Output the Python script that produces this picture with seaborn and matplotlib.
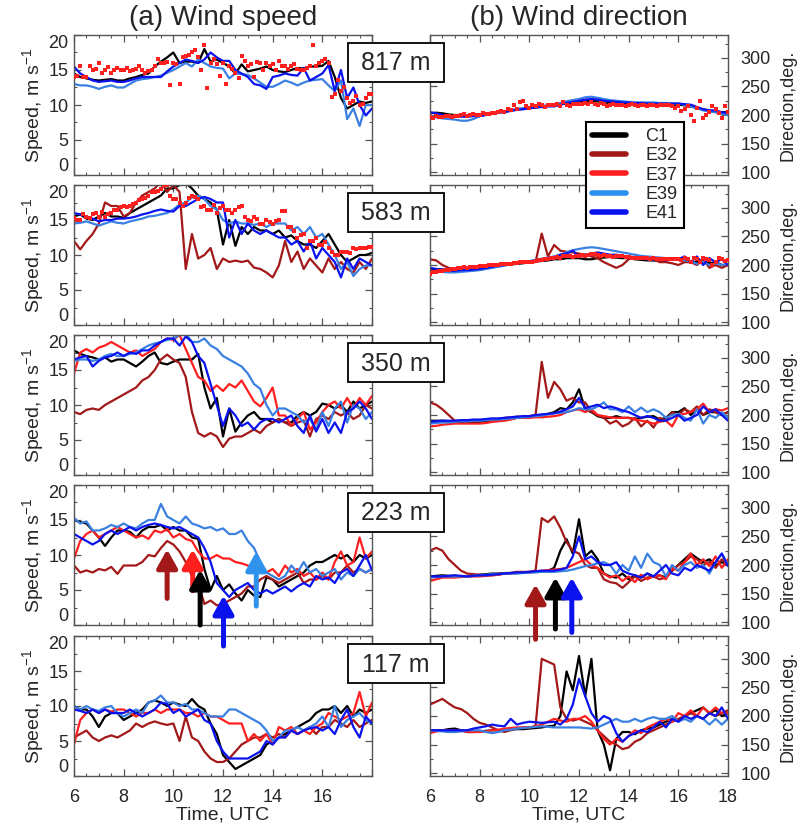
import numpy as np
import pandas as pd
import matplotlib
matplotlib.use('Agg')
import matplotlib.pyplot as plt
import matplotlib.patches as mpatches
from matplotlib.lines import Line2D
from matplotlib.ticker import MultipleLocator, FixedLocator
import seaborn as sns

sns.set_theme(style='white')
plt.rcParams['font.family'] = ['Liberation Sans', 'DejaVu Sans']
plt.rcParams['mathtext.default'] = 'regular'

# ---------------- data (UTC hours 6..18, 15-min steps) ----------------
times = np.round(np.arange(6, 18.001, 0.25), 3)
times_b = times[:-1] + 0.125
stations = ['C1', 'E32', 'E37', 'E39', 'E41']
heights = ['817 m', '583 m', '350 m', '223 m', '117 m']

# 817 m
spd817_C1 = [14.5, 14.0, 13.8, 13.6, 13.5, 13.6, 13.7, 13.5,
             13.5, 13.8, 14.0, 14.3, 14.5, 15.5, 16.2, 16.8,
             17.5, 16.0, 16.2, 16.2, 16.0, 18.0, 16.2, 16.5,
             16.0, 15.5, 14.5, 15.8, 14.8, 15.0, 15.2, 15.5,
             15.0, 14.8, 14.7, 15.0, 15.3, 15.2, 15.5, 15.5,
             15.6, 16.3, 14.0, 11.0, 9.5, 10.0, 10.5, 10.3, 10.5]
spd817_E39 = [13.0, 12.8, 12.8, 12.6, 12.3, 12.6, 12.8, 12.5,
              12.5, 13.0, 13.5, 13.7, 13.8, 14.0, 14.2, 14.6,
              15.0, 15.5, 16.0, 15.5, 16.5, 16.0, 15.5, 15.3,
              15.2, 13.8, 14.5, 14.4, 14.3, 13.8, 13.2, 12.6,
              12.6, 13.0, 13.5, 13.2, 12.8, 13.2, 13.5, 13.6,
              13.7, 12.8, 12.0, 13.5, 8.0, 9.5, 7.0, 10.0, 10.0]
spd817_E41 = [15.5, 14.5, 14.0, 13.5, 13.3, 13.4, 13.5, 13.3,
              13.3, 13.5, 13.8, 14.0, 14.0, 14.0, 14.0, 14.8,
              15.5, 16.0, 16.5, 16.3, 16.0, 16.5, 17.5, 16.8,
              16.3, 16.3, 15.0, 14.5, 14.0, 13.0, 12.8, 12.3,
              14.0, 14.2, 14.5, 14.3, 14.2, 15.3, 13.5, 14.0,
              14.5, 15.7, 12.0, 15.0, 11.0, 12.5, 10.0, 8.5, 9.5]
spd817_E37a = [14.0, 15.5, 14.0, 15.0, 16.0, 15.0, 14.5, 15.3,
               15.0, 14.8, 15.2, 15.0, 14.8, 15.5, 16.0, 16.2,
               16.0, 13.0, 17.0, 17.5, 16.8, 18.5, 16.0, 15.8,
               16.0, 15.5, 14.5, 17.0, 15.5, 14.0, 16.0, 16.0,
               15.8, 16.3, 15.5, 15.5, 15.2, 15.0, 15.5, 15.5,
               16.3, 16.0, 11.5, 12.0, 11.0, 10.5, 10.0, 11.0, 11.5]
spd817_E37b = [14.2, 14.0, 15.5, 15.2, 14.6, 15.4, 15.0, 15.0,
               15.3, 15.0, 15.5, 14.6, 15.0, 16.5, 16.0, 12.9,
               15.8, 16.8, 17.2, 17.8, 15.0, 12.4, 16.5, 14.2,
               13.0, 15.2, 13.8, 16.3, 15.8, 16.2, 15.0, 15.5,
               15.0, 15.5, 15.2, 15.8, 15.0, 15.3, 18.5, 16.0,
               16.5, 11.2, 13.5, 12.5, 10.3, 11.3, 10.2, 11.5]
dir817_C1 = [203, 204, 203, 201, 200, 200, 199, 199,
             200, 201, 203, 205, 206, 208, 210, 211,
             212, 213, 215, 216, 218, 219, 220, 221,
             222, 224, 225, 224, 222, 221, 221, 220,
             220, 219, 219, 218, 218, 218, 218, 218,
             218, 217, 215, 212, 210, 208, 205, 205, 205]
dir817_E39 = [198, 196, 194, 193, 192, 190, 190, 193,
              198, 200, 203, 205, 206, 208, 210, 212,
              213, 215, 216, 217, 218, 221, 224, 226,
              228, 231, 232, 230, 228, 226, 225, 224,
              223, 222, 222, 222, 222, 221, 221, 220,
              220, 218, 215, 212, 208, 206, 205, 202, 200]
dir817_E41 = [205, 203, 200, 198, 198, 197, 197, 198,
              198, 200, 202, 204, 205, 207, 209, 210,
              212, 213, 214, 215, 215, 218, 221, 223,
              225, 227, 228, 227, 225, 224, 223, 222,
              222, 221, 221, 220, 220, 220, 220, 220,
              220, 219, 218, 214, 210, 208, 208, 205, 203]
dir817_E37a = [197, 198, 196, 198, 199, 200, 199, 201,
               200, 202, 203, 205, 205, 208, 210, 225,
               212, 216, 217, 218, 217, 216, 218, 219,
               220, 221, 222, 218, 220, 218, 218, 217,
               217, 218, 217, 216, 217, 218, 217, 216,
               215, 210, 200, 212, 195, 205, 210, 195, 205]
dir817_E37b = [195, 197, 199, 197, 198, 201, 200, 200,
               203, 201, 204, 207, 210, 218, 222, 215,
               217, 219, 214, 218, 220, 222, 216, 220,
               219, 220, 219, 221, 216, 219, 218, 216,
               219, 216, 218, 217, 216, 218, 217, 212,
               207, 215, 190, 225, 200, 215, 203, 215]

# 583 m
spd583_C1 = [15.5, 15.8, 15.2, 15.0, 15.5, 16.0, 15.5, 15.5,
             15.3, 16.0, 16.5, 17.0, 17.5, 18.0, 18.5, 19.5,
             19.5, 20.0, 20.3, 19.5, 18.5, 18.0, 17.5, 16.5,
             11.5, 15.0, 11.3, 14.0, 13.0, 14.0, 13.5, 13.5,
             13.0, 13.5, 12.5, 12.8, 12.0, 11.5, 11.5, 11.0,
             12.0, 13.0, 11.5, 10.0, 9.0, 9.5, 10.0, 10.0, 10.3]
spd583_E32 = [12.0, 10.8, 12.0, 13.0, 14.5, 17.5, 17.0, 17.0,
              15.5, 16.0, 17.5, 18.5, 19.0, 19.5, 20.5, 19.0,
              20.0, 19.0, 8.0, 13.0, 9.5, 10.0, 11.0, 8.0,
              9.5, 9.0, 9.2, 9.0, 9.2, 8.2, 8.0, 7.5,
              6.8, 8.5, 12.0, 9.0, 10.5, 8.0, 9.5, 8.5,
              7.5, 9.5, 8.0, 9.0, 8.0, 7.5, 9.0, 8.0, 9.5]
spd583_E39 = [14.5, 14.6, 14.8, 14.5, 14.2, 14.5, 14.8, 14.6,
              14.5, 14.8, 15.0, 15.2, 15.5, 15.6, 15.8, 16.0,
              16.5, 17.2, 17.5, 18.2, 18.5, 18.0, 17.0, 16.5,
              15.0, 14.5, 14.8, 14.5, 14.5, 14.3, 14.5, 14.0,
              14.5, 14.5, 14.5, 13.5, 14.0, 13.0, 14.0, 12.5,
              13.0, 11.5, 10.0, 8.0, 9.0, 7.0, 8.0, 8.5, 8.5]
spd583_E41 = [16.0, 15.8, 15.5, 15.2, 14.8, 15.0, 15.0, 15.2,
              15.2, 15.3, 15.5, 15.8, 16.0, 16.3, 16.5, 16.3,
              16.2, 17.0, 17.0, 17.5, 18.0, 18.3, 18.0, 17.5,
              17.5, 12.5, 15.0, 13.0, 14.5, 13.5, 13.0, 13.5,
              13.0, 12.5, 12.5, 11.5, 12.0, 10.5, 12.0, 9.5,
              11.0, 10.0, 9.0, 6.8, 9.5, 8.0, 9.5, 9.0, 8.5]
spd583_E37a = [15.3, 15.0, 15.5, 15.8, 15.5, 15.5, 16.0, 16.5,
               17.0, 17.0, 17.5, 18.0, 18.5, 19.0, 19.5, 20.0,
               18.0, 17.5, 17.5, 18.5, 18.0, 17.0, 16.5, 16.0,
               17.0, 16.5, 16.5, 17.0, 15.0, 15.5, 14.5, 15.0,
               14.5, 15.0, 16.3, 14.0, 12.5, 13.0, 12.0, 12.5,
               11.5, 11.0, 10.0, 10.5, 10.5, 11.0, 11.0, 11.0, 11.2]
spd583_E37b = [15.0, 15.8, 15.3, 16.0, 16.2, 15.8, 16.5, 16.8,
               16.8, 17.3, 17.8, 18.2, 19.0, 19.2, 20.0, 18.5,
               18.0, 17.0, 18.2, 18.3, 16.8, 16.5, 17.2, 16.7,
               16.5, 16.0, 16.8, 15.5, 14.8, 15.2, 14.5, 14.7,
               14.8, 16.3, 14.0, 13.5, 12.8, 11.0, 12.0, 11.5,
               11.8, 10.5, 10.0, 10.5, 10.3, 10.8, 11.0, 11.1]
dir583_C1 = [193, 193, 192, 190, 190, 190, 190, 191,
             192, 194, 196, 198, 200, 201, 202, 203,
             205, 206, 207, 208, 210, 210, 212, 212,
             212, 210, 210, 212, 213, 214, 213, 212,
             212, 210, 209, 208, 208, 207, 208, 210,
             210, 208, 205, 205, 210, 203, 205, 200, 200]
dir583_E32 = [210, 208, 200, 195, 190, 190, 190, 192,
              195, 196, 198, 199, 200, 202, 203, 204,
              205, 205, 255, 215, 235, 225, 223, 222,
              220, 218, 215, 212, 205, 200, 195, 200,
              210, 215, 212, 210, 210, 205, 205, 203,
              200, 205, 205, 200, 210, 195, 200, 195, 200]
dir583_E39 = [190, 189, 188, 187, 187, 188, 189, 190,
              191, 193, 195, 197, 199, 201, 203, 205,
              207, 209, 211, 213, 215, 218, 222, 226,
              228, 230, 231, 230, 228, 226, 224, 222,
              220, 218, 216, 215, 214, 213, 212, 211,
              210, 208, 207, 202, 205, 200, 203, 200, 202]
dir583_E41 = [195, 193, 192, 190, 190, 191, 191, 192,
              193, 195, 197, 199, 200, 202, 203, 205,
              206, 208, 210, 212, 214, 218, 220, 225,
              215, 218, 220, 222, 220, 218, 218, 216,
              215, 213, 212, 210, 210, 212, 208, 212,
              210, 215, 205, 215, 200, 212, 205, 210, 200]
dir583_E37a = [185, 188, 190, 192, 193, 195, 195, 196,
               198, 199, 200, 200, 201, 202, 203, 205,
               205, 207, 208, 210, 212, 213, 215, 214,
               215, 216, 220, 218, 217, 215, 215, 215,
               214, 213, 212, 212, 212, 211, 210, 210,
               210, 212, 205, 210, 212, 208, 205, 210, 208]
dir583_E37b = [187, 189, 191, 193, 194, 196, 196, 197,
               199, 200, 200, 201, 202, 204, 205, 206,
               206, 208, 211, 213, 214, 216, 215, 216,
               218, 218, 219, 216, 216, 214, 215, 214,
               213, 212, 212, 211, 211, 210, 210, 211,
               208, 210, 212, 205, 210, 200, 212, 207]

# 350 m
spd350_C1 = [17.8, 17.3, 17.0, 16.8, 16.5, 16.8, 16.2, 16.5,
             16.5, 16.0, 15.5, 16.2, 17.0, 17.5, 16.0, 15.8,
             16.2, 16.5, 16.5, 16.5, 17.3, 12.5, 9.5, 11.0,
             5.5, 9.5, 6.2, 7.5, 8.5, 9.0, 8.0, 8.0,
             7.5, 8.0, 7.5, 7.5, 8.5, 9.0, 8.5, 9.0,
             10.2, 10.0, 9.5, 10.0, 9.0, 10.5, 9.5, 10.0, 10.5]
spd350_E32 = [9.0, 8.7, 9.3, 9.5, 9.3, 10.0, 10.5, 11.0,
              11.5, 12.0, 12.5, 13.5, 14.0, 15.0, 16.5, 17.2,
              16.5, 16.0, 14.0, 9.0, 6.0, 5.5, 6.0, 5.5,
              4.0, 5.2, 5.5, 5.5, 6.0, 6.5, 6.0, 7.0,
              7.5, 8.0, 7.5, 7.0, 7.5, 7.8, 5.5, 8.0,
              8.5, 8.0, 9.0, 8.5, 9.0, 8.0, 8.5, 10.0, 9.5]
spd350_E37 = [14.5, 17.5, 18.0, 17.5, 18.2, 18.5, 19.0, 18.5,
              18.0, 17.5, 17.8, 17.0, 17.5, 18.0, 19.0, 19.5,
              19.3, 20.0, 18.0, 16.0, 14.0, 13.5, 12.0, 12.8,
              12.0, 13.0, 12.5, 13.5, 12.0, 10.5, 9.8, 11.0,
              12.5, 8.5, 8.5, 7.0, 8.0, 9.0, 6.5, 7.5,
              9.0, 10.0, 10.5, 9.5, 11.0, 9.5, 11.0, 10.0, 11.3]
spd350_E39 = [16.3, 16.5, 16.5, 16.3, 16.5, 17.0, 17.3, 17.0,
              17.0, 17.3, 17.5, 18.0, 18.5, 18.8, 19.0, 19.3,
              19.5, 20.0, 20.2, 19.0, 19.0, 19.5, 18.5, 18.0,
              17.0, 16.5, 16.0, 15.5, 14.5, 13.0, 12.3, 10.0,
              8.5, 9.5, 9.5, 9.0, 8.5, 7.5, 8.0, 6.5,
              9.0, 7.0, 9.5, 10.5, 7.5, 10.0, 9.5, 8.0, 9.0]
spd350_E41 = [16.5, 16.8, 17.0, 15.5, 16.3, 16.8, 17.0, 17.5,
              17.0, 17.5, 17.3, 17.8, 17.8, 18.5, 19.0, 19.5,
              19.5, 18.5, 19.8, 19.0, 17.0, 16.0, 13.0, 10.0,
              7.0, 9.5, 8.5, 7.0, 7.5, 6.5, 7.5, 8.0,
              8.0, 7.5, 8.0, 8.5, 7.0, 6.0, 8.5, 6.2,
              8.0, 6.0, 7.5, 6.0, 9.0, 9.5, 10.5, 9.5, 8.0]
dir350_C1 = [190, 190, 190, 189, 188, 188, 188, 188,
             188, 189, 190, 191, 192, 193, 195, 196,
             197, 198, 200, 202, 205, 212, 210, 222,
             245, 210, 205, 198, 195, 195, 198, 195,
             195, 193, 195, 197, 198, 192, 195, 205,
             205, 212, 200, 210, 200, 205, 205, 200, 205]
dir350_E32 = [222, 218, 210, 200, 190, 190, 190, 190,
              190, 191, 192, 193, 195, 196, 197, 197,
              198, 200, 293, 230, 258, 245, 225, 230,
              222, 222, 205, 200, 195, 185, 190, 180,
              185, 195, 180, 190, 178, 195, 190, 205,
              200, 210, 205, 215, 200, 210, 205, 200, 205]
dir350_E37 = [180, 181, 183, 184, 185, 185, 185, 185,
              185, 186, 188, 189, 190, 192, 195, 195,
              195, 196, 196, 197, 198, 200, 205, 208,
              210, 205, 210, 200, 198, 196, 195, 195,
              195, 192, 190, 188, 185, 188, 190, 180,
              200, 202, 205, 210, 220, 205, 210, 208, 212]
dir350_E39 = [185, 186, 187, 187, 188, 189, 189, 190,
              190, 191, 192, 192, 193, 194, 195, 196,
              197, 198, 199, 201, 203, 204, 205, 208,
              212, 210, 210, 215, 222, 210, 210, 205,
              215, 205, 213, 205, 210, 205, 195, 200,
              202, 195, 190, 210, 185, 200, 195, 205, 195]
dir350_E41 = [188, 189, 190, 190, 190, 191, 191, 192,
              192, 193, 194, 194, 195, 196, 197, 198,
              198, 200, 201, 202, 203, 206, 210, 215,
              230, 212, 215, 218, 212, 215, 212, 208,
              205, 200, 195, 198, 195, 190, 190, 195,
              200, 190, 195, 200, 215, 205, 210, 200, 190]

# 223 m
spd223_C1 = [15.0, 14.7, 14.5, 13.5, 12.5, 11.3, 12.5, 13.5,
             13.5, 13.3, 12.5, 13.5, 14.0, 14.0, 14.3, 13.5,
             14.0, 13.5, 13.5, 12.5, 12.3, 8.0, 5.0, 7.0,
             5.0, 5.8, 4.5, 3.5, 5.0, 4.2, 4.0, 6.8,
             6.5, 5.5, 6.0, 6.5, 7.0, 7.5, 8.5, 9.0,
             9.0, 9.5, 10.0, 9.5, 10.0, 9.0, 10.0, 9.5, 10.0]
spd223_E32 = [8.5, 7.5, 7.8, 7.5, 8.0, 7.8, 8.3, 7.3,
              8.5, 8.5, 8.5, 9.0, 10.0, 9.8, 11.0, 12.0,
              11.5, 10.5, 9.0, 7.0, 6.0, 3.0, 3.5, 2.8,
              3.0, 3.5, 4.0, 4.5, 5.5, 5.5, 6.5, 7.0,
              6.5, 6.0, 6.5, 7.0, 7.5, 6.0, 6.5, 6.5,
              7.0, 6.5, 7.5, 7.5, 8.5, 7.5, 8.0, 7.5, 8.0]
spd223_E37 = [9.5, 12.0, 13.0, 13.5, 12.5, 13.0, 13.5, 14.0,
              13.5, 13.0, 12.5, 12.8, 12.3, 13.5, 13.2, 13.7,
              12.5, 13.0, 12.3, 12.0, 10.5, 9.5, 9.5, 10.0,
              9.5, 9.5, 9.0, 8.8, 8.5, 8.0, 7.5, 7.5,
              8.0, 7.0, 8.5, 7.5, 8.0, 7.0, 7.5, 6.5,
              7.5, 6.5, 9.0, 10.5, 8.5, 9.0, 12.5, 9.5, 10.5]
spd223_E39 = [15.3, 14.5, 14.8, 13.5, 13.5, 13.8, 14.3, 14.0,
              14.5, 14.0, 13.8, 14.5, 15.0, 15.0, 17.3, 15.5,
              15.0, 14.5, 15.5, 14.5, 14.2, 13.8, 14.0, 13.5,
              13.8, 13.0, 13.0, 13.5, 12.0, 11.0, 9.0, 7.5,
              7.0, 6.5, 7.0, 8.5, 7.5, 9.0, 7.5, 8.0,
              7.0, 7.5, 8.0, 6.5, 7.5, 7.0, 8.0, 7.5, 8.0]
spd223_E41 = [13.0, 12.5, 12.0, 11.5, 12.0, 13.0, 13.5, 13.0,
              13.5, 14.0, 13.5, 14.0, 14.3, 14.5, 14.3, 14.0,
              13.8, 14.0, 13.5, 13.0, 12.5, 11.0, 9.0, 6.0,
              5.0, 4.0, 5.0, 5.5, 6.0, 5.0, 4.5, 5.0,
              4.5, 5.0, 5.5, 4.8, 5.5, 6.0, 5.5, 7.0,
              6.5, 6.8, 6.0, 7.5, 8.0, 7.0, 8.5, 10.0, 7.8]
dir223_C1 = [180, 181, 182, 181, 181, 180, 180, 181,
             183, 184, 185, 185, 186, 186, 186, 187,
             187, 188, 188, 190, 195, 225, 245, 220,
             280, 215, 225, 210, 185, 180, 178, 185,
             175, 182, 178, 185, 180, 182, 178, 190,
             200, 210, 220, 212, 205, 210, 200, 205, 200]
dir223_E32 = [225, 230, 225, 210, 200, 190, 185, 184,
              183, 182, 182, 183, 185, 186, 188, 188,
              188, 190, 282, 275, 285, 265, 240, 225,
              220, 200, 195, 195, 175, 170, 168, 160,
              170, 180, 172, 178, 180, 175, 178, 190,
              200, 205, 215, 210, 200, 205, 195, 210, 200]
dir223_E37 = [172, 175, 178, 178, 178, 179, 180, 180,
              180, 181, 182, 183, 185, 185, 186, 187,
              188, 189, 190, 191, 192, 193, 195, 200,
              205, 210, 200, 195, 185, 178, 182, 172,
              180, 170, 183, 175, 180, 182, 175, 195,
              190, 205, 220, 200, 210, 198, 215, 195, 210]
dir223_E39 = [178, 179, 180, 180, 180, 180, 180, 181,
              182, 183, 184, 184, 185, 185, 185, 186,
              187, 187, 188, 188, 188, 189, 190, 192,
              195, 198, 200, 203, 205, 200, 185, 200,
              190, 215, 195, 220, 205, 200, 180, 200,
              190, 200, 205, 195, 200, 185, 205, 220, 200]
dir223_E41 = [180, 180, 180, 181, 182, 181, 180, 181,
              182, 182, 183, 184, 185, 186, 187, 187,
              188, 189, 190, 190, 190, 192, 195, 215,
              250, 210, 215, 205, 200, 200, 205, 190,
              185, 182, 178, 185, 180, 190, 200, 185,
              182, 195, 190, 200, 195, 190, 205, 220, 198]

# 117 m
spd117_C1 = [10.0, 9.5, 9.5, 8.5, 7.0, 8.5, 9.0, 9.0,
             8.0, 8.5, 9.0, 9.5, 10.5, 10.8, 10.5, 10.0,
             10.5, 10.2, 10.0, 11.0, 10.0, 9.5, 7.5, 6.0,
             3.0, 2.0, 1.0, 1.5, 2.0, 2.5, 3.0, 4.5,
             5.0, 5.5, 6.0, 6.5, 7.0, 7.5, 8.0, 9.0,
             9.5, 9.5, 10.0, 9.0, 10.0, 8.5, 9.5, 9.0, 9.5]
spd117_E32 = [5.5, 6.0, 6.5, 5.5, 5.0, 5.5, 5.8, 5.5,
              6.0, 6.5, 7.5, 7.0, 7.5, 7.8, 7.5, 7.3,
              7.5, 5.0, 8.5, 5.5, 5.0, 3.5, 2.5, 2.0,
              2.0, 2.5, 3.5, 4.5, 5.0, 5.5, 5.5, 6.0,
              5.5, 6.0, 5.5, 6.5, 6.0, 6.5, 7.0, 6.0,
              7.0, 7.0, 8.0, 7.5, 7.0, 8.0, 7.0, 7.5, 8.0]
spd117_E37 = [4.5, 8.0, 9.0, 9.5, 9.0, 9.5, 9.2, 9.5,
              9.5, 9.0, 8.5, 9.0, 9.0, 9.5, 9.0, 9.5,
              9.5, 9.5, 9.0, 9.0, 8.5, 9.0, 8.5, 8.5,
              8.0, 7.5, 7.5, 7.5, 5.0, 6.0, 5.0, 6.0,
              4.5, 7.0, 6.5, 7.0, 6.0, 6.5, 6.0, 7.0,
              7.5, 9.0, 8.5, 8.0, 8.5, 9.0, 12.0, 8.5, 10.5]
spd117_E39 = [10.0, 9.5, 10.0, 9.5, 9.3, 9.8, 10.0, 9.0,
              8.5, 9.0, 9.5, 9.0, 10.5, 10.8, 11.5, 10.5,
              10.5, 10.0, 10.3, 9.5, 9.5, 9.0, 8.5, 8.5,
              8.5, 9.5, 9.5, 9.0, 8.5, 8.0, 7.5, 6.5,
              5.0, 5.5, 6.5, 6.5, 7.0, 6.5, 7.0, 7.5,
              8.5, 7.0, 10.0, 7.0, 8.0, 8.5, 9.0, 8.0, 7.5]
spd117_E41 = [9.5, 9.3, 9.0, 9.5, 9.0, 9.5, 9.0, 9.0,
              9.0, 9.5, 9.0, 8.5, 9.0, 9.5, 10.5, 10.3,
              9.0, 9.5, 8.5, 9.0, 9.5, 8.0, 7.5, 5.0,
              3.5, 2.5, 2.5, 2.5, 2.5, 3.0, 3.5, 5.0,
              4.5, 5.5, 5.5, 6.5, 6.0, 6.5, 6.8, 7.0,
              6.5, 7.0, 6.0, 8.0, 9.5, 7.0, 5.5, 8.5, 7.5]
dir117_C1 = [175, 175, 175, 177, 178, 175, 172, 172,
             173, 174, 175, 175, 176, 176, 177, 177,
             178, 179, 180, 182, 183, 200, 278, 245,
             305, 235, 300, 175, 150, 105, 160, 172,
             172, 168, 175, 178, 180, 185, 190, 195,
             192, 200, 205, 210, 215, 205, 210, 200, 205]
dir117_E32 = [220, 225, 230, 222, 215, 212, 205, 195,
              188, 185, 180, 175, 172, 175, 178, 180,
              180, 182, 300, 295, 290, 215, 195, 192,
              195, 190, 185, 175, 165, 155, 150, 142,
              145, 155, 160, 170, 175, 180, 185, 190,
              195, 200, 205, 200, 195, 205, 200, 205, 210]
dir117_E37 = [170, 173, 175, 175, 175, 174, 172, 172,
              172, 173, 175, 176, 178, 179, 180, 180,
              180, 182, 185, 190, 195, 192, 190, 195,
              195, 200, 190, 175, 160, 150, 160, 155,
              165, 175, 170, 180, 185, 190, 195, 190,
              205, 200, 210, 200, 215, 205, 215, 205, 205]
dir117_E39 = [175, 174, 173, 172, 172, 173, 175, 175,
              175, 172, 170, 172, 175, 176, 178, 179,
              180, 181, 182, 181, 180, 180, 180, 180,
              180, 179, 178, 180, 185, 190, 195, 190,
              190, 195, 190, 195, 198, 195, 195, 200,
              190, 195, 190, 200, 195, 185, 195, 185, 195]
dir117_E41 = [175, 175, 175, 175, 175, 175, 175, 178,
              180, 182, 185, 183, 182, 195, 185, 188,
              190, 189, 188, 189, 190, 185, 195, 220,
              265, 235, 205, 190, 200, 195, 170, 155,
              165, 170, 175, 172, 180, 190, 180, 195,
              190, 200, 195, 200, 195, 205, 200, 215, 195]

# ---------------- tables built from the arrays ----------------
line_series = [
    ('817 m', 'C1', spd817_C1, dir817_C1), ('817 m', 'E39', spd817_E39, dir817_E39),
    ('817 m', 'E41', spd817_E41, dir817_E41),
    ('583 m', 'C1', spd583_C1, dir583_C1), ('583 m', 'E32', spd583_E32, dir583_E32),
    ('583 m', 'E39', spd583_E39, dir583_E39), ('583 m', 'E41', spd583_E41, dir583_E41),
    ('350 m', 'C1', spd350_C1, dir350_C1), ('350 m', 'E32', spd350_E32, dir350_E32),
    ('350 m', 'E37', spd350_E37, dir350_E37), ('350 m', 'E39', spd350_E39, dir350_E39),
    ('350 m', 'E41', spd350_E41, dir350_E41),
    ('223 m', 'C1', spd223_C1, dir223_C1), ('223 m', 'E32', spd223_E32, dir223_E32),
    ('223 m', 'E37', spd223_E37, dir223_E37), ('223 m', 'E39', spd223_E39, dir223_E39),
    ('223 m', 'E41', spd223_E41, dir223_E41),
    ('117 m', 'C1', spd117_C1, dir117_C1), ('117 m', 'E32', spd117_E32, dir117_E32),
    ('117 m', 'E37', spd117_E37, dir117_E37), ('117 m', 'E39', spd117_E39, dir117_E39),
    ('117 m', 'E41', spd117_E41, dir117_E41),
]
dot_series = [
    ('817 m', times, spd817_E37a, dir817_E37a), ('817 m', times_b, spd817_E37b, dir817_E37b),
    ('583 m', times, spd583_E37a, dir583_E37a), ('583 m', times_b, spd583_E37b, dir583_E37b),
]

rows = []
for h, st, sp, dr in line_series:
    for t, s, d in zip(times, sp, dr):
        rows.append({'height': h, 'station': st, 'time': t, 'speed': s, 'direction': d})
df = pd.DataFrame(rows)
drows = []
for h, tt, sp, dr in dot_series:
    for t, s, d in zip(tt, sp, dr):
        drows.append({'height': h, 'station': 'E37', 'time': t, 'speed': s, 'direction': d})
ddf = pd.DataFrame(drows)

palette = {'C1': '#000000', 'E32': '#a31818', 'E37': '#ff1f1f',
           'E39': '#3a80e2', 'E41': '#0a12ee'}
legend_colors = {'C1': '#000000', 'E32': '#a31818', 'E37': '#ff1f1f',
                 'E39': '#2b90f0', 'E41': '#0a12ee'}

# ---------------- layout ----------------
W, H = 804, 824
fig = plt.figure(figsize=(W / 100, H / 100), dpi=100)
tops = [35, 185, 335, 485, 636]
ph, pw = 140, 298
lx, rx = 74, 430
spine_c = '#555555'


def style(ax):
    for s in ax.spines.values():
        s.set_color(spine_c)
        s.set_linewidth(1.0)
    ax.tick_params(which='both', direction='in', top=True, bottom=True,
                   left=True, right=True, color=spine_c, labelsize=13)
    ax.tick_params(which='major', length=5, width=0.9)
    ax.tick_params(which='minor', length=2.5, width=0.8)
    ax.patch.set_alpha(0)


axes_l, axes_r = [], []
for i, (h, top) in enumerate(zip(heights, tops)):
    y0 = 1 - (top + ph) / H
    axL = fig.add_axes([lx / W, y0, pw / W, ph / H])
    axR = fig.add_axes([rx / W, y0, pw / W, ph / H])
    axes_l.append(axL)
    axes_r.append(axR)
    sub = df[df.height == h]
    order = [s for s in stations if s in set(sub.station)]
    for ax, var in ((axL, 'speed'), (axR, 'direction')):
        sns.lineplot(data=sub, x='time', y=var, hue='station', hue_order=order,
                     palette=palette, estimator=None, sort=False, legend=False,
                     linewidth=1.6, ax=ax)
        dsub = ddf[ddf.height == h]
        if len(dsub):
            sns.scatterplot(data=dsub, x='time', y=var, color=palette['E37'],
                            marker='s', s=7, linewidth=0, ax=ax, zorder=3)
    for ax in (axL, axR):
        style(ax)
        ax.set_xlim(6, 18)
        ax.xaxis.set_major_locator(MultipleLocator(2))
        ax.xaxis.set_minor_locator(MultipleLocator(0.5))
        ax.set_xlabel('')
        ax.set_ylabel('')
    axL.set_ylim(0, 20)
    axL.yaxis.set_major_locator(FixedLocator([0, 5, 10, 15, 20]))
    axL.yaxis.set_minor_locator(MultipleLocator(2.5))
    axL.tick_params(axis='y', labelleft=True, labelright=False, pad=4)
    axL.set_ylabel('Speed, m s$^{-1}$', fontsize=14, labelpad=2)
    axR.set_ylim(95, 340)
    axR.yaxis.set_major_locator(MultipleLocator(50))
    axR.yaxis.set_minor_locator(MultipleLocator(25))
    axR.tick_params(axis='y', labelleft=False, labelright=True, pad=9)
    axR.yaxis.set_label_position('right')
    axR.set_ylabel('Direction,deg.', fontsize=13, labelpad=6)
    if i < 4:
        axL.tick_params(axis='x', labelbottom=False)
        axR.tick_params(axis='x', labelbottom=False)
    else:
        axL.set_xticks([6, 8, 10, 12, 14, 16, 18])
        axL.set_xticklabels(['6', '8', '10', '12', '14', '16', ''])
        for ax in (axL, axR):
            ax.tick_params(axis='x', pad=9)
            ax.set_xlabel('Time, UTC', fontsize=14, labelpad=1)

    # the end labels of the speed axis sit inside the panel height
    yt = axL.yaxis.get_major_ticks()
    yt[0].label1.set_verticalalignment('bottom')
    yt[-1].label1.set_verticalalignment('top')

    # height label box
    bx0, bw, bh = 348, 96, 39
    by0 = top + 8
    fig.patches.append(mpatches.Rectangle((bx0 / W, 1 - (by0 + bh) / H), bw / W, bh / H,
                                          transform=fig.transFigure, facecolor='white',
                                          edgecolor='black', linewidth=1.3, zorder=5))
    fig.text((bx0 + bw / 2) / W, 1 - (by0 + bh / 2 + 1) / H, h, ha='center', va='center',
             fontsize=18, zorder=6)

# arrows in the 223 m panels
axL4, axR4 = axes_l[3], axes_r[3]
for ax in (axL4, axR4):
    ax.set_zorder(2)
arrows_left = [(9.75, 3.8, 10.8, '#a31818'), (10.78, 4.9, 10.8, '#ff1f1f'),
               (11.08, 0.0, 7.9, '#000000'), (12.02, -3.0, 4.2, '#0a12ee'),
               (13.34, 2.7, 10.5, '#2f93ee')]
arrows_right = [(10.25, 70, 166, '#a31818'), (11.05, 88, 178, '#000000'),
                (11.71, 82, 178, '#0a12ee')]
for ax, arr in ((axL4, arrows_left), (axR4, arrows_right)):
    for x, yb, yt_, c in arr:
        ax.annotate('', xy=(x, yt_), xytext=(x, yb), annotation_clip=False,
                    arrowprops=dict(arrowstyle='-|>,head_length=0.5,head_width=0.28',
                                    mutation_scale=22, lw=3.6, color=c,
                                    shrinkA=0, shrinkB=0))

# titles
fig.text((lx + pw / 2) / W, 1 - 18 / H, '(a) Wind speed', ha='center', va='center', fontsize=20)
fig.text((rx + pw / 2) / W, 1 - 18 / H, '(b) Wind direction', ha='center', va='center', fontsize=20)

# legend
handles = [Line2D([0], [0], color=legend_colors[s], lw=4) for s in stations]
leg = fig.legend(handles, stations, loc='upper left',
                 bbox_to_anchor=(586 / W, 1 - 122 / H), fontsize=13,
                 frameon=True, fancybox=False, edgecolor='black', framealpha=1,
                 handlelength=1.85, handletextpad=1.1, labelspacing=0.12,
                 borderpad=0.35, borderaxespad=0)
leg.get_frame().set_linewidth(1.5)
leg.set_zorder(10)

fig.savefig('out.png', dpi=100)
